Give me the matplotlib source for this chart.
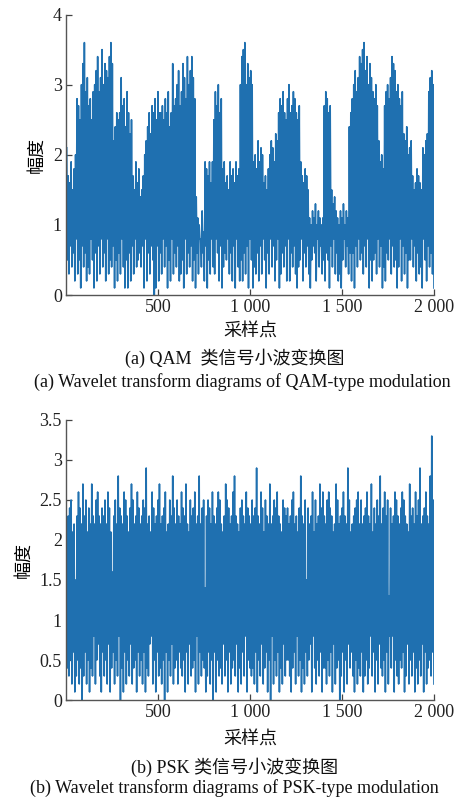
import numpy as np
import matplotlib
matplotlib.use("Agg")
import matplotlib.pyplot as plt

# amplitude levels: one character per 0.1 step (0 -> 0.0, a -> 1.0, k -> 2.0, u -> 3.0, A -> 3.6)
LEVELS = "0123456789abcdefghijklmnopqrstuvwxyzAB"

# QAM: upper peaks, one per 8 samples
qam_hi = "".join([
    "lhgjfik", "srpuxAtvrspt", "uwytvzuxwvyAx", "moq", "pqvrsotqnp",
    "hfjgiefh", "kmoqn", "rqsptq", "qrpsqtoqxrs", "uwrtxvsyuwyvs",
    "eb", "a8c9", "jihjgj", "ptruqs", "ijghfjhigjhi", "uyzAuxvwu",
    "jkimjlk", "ghfi", "kmljnm", "qsrtqpsuqrtsqpr", "jhgihf",
    "bacbdacbab", "rtsqr", "fdec", "bacbdacb", "oqsuwtvyxz",
    "Awyuxvtsur", "mjki", "rtusvyxwtusrt", "nmoklm", "hfgihgf",
    "lkmn", "tvwu",
])
# QAM: lower troughs, one per 8 samples
qam_lo = "".join([
    "5374628351746243851627384",
    "6283547152638415162738456",
    "4718263750172638471528364",
    "7235183647251638462715384",
    "3862714658362718425263718",
    "5143627385163847258136472",
    "8264731458264731576284735",
    "2651748362315847362617485",
    "6374815256384714265837451",
    "4827361558472634185274631",
])

# PSK: upper peaks and lower troughs, one per 8 samples
psk_hi = "".join([
    "mnoplmfnqomrnplomrnmpqnmo",
    "npmqolgnpmsonmqpnlorpmnqo",
    "mnpotmnlqomnprmnoqlmpnsom",
    "pnmqonrmlpnoqmnsmopenpomq",
    "nmoqpmlnrpomnqsnmlopnmqon",
    "mpnotnmqolpnmrmnpoqnmlpon",
    "omnpqmnlosnmpfomnqlpmnroq",
    "nmpqonlmrpmnoqnmtplmnopqm",
    "pmnoqnmrlompnsmoqnpdomnqp",
    "nmoqpnmlrnomqnptmnoqnmsxp",
])
psk_lo = "".join([
    "4352613524036251438257316",
    "3527146253804162537245163",
    "5261437825163425061537245",
    "2643516273451826354136250",
    "6153427351624537142638154",
    "3426153724615082536142735",
    "5314628351426357184253614",
    "4253617245036152746315243",
    "6135248361527435162848153",
    "2546137253614253716245362",
])

x_ticks = [500, 1000, 1500, 2000]
x_tick_labels = ["500", "1 000", "1 500", "2 000"]

LINE_COLOR = "#1f70b0"
SERIF = ["Liberation Serif", "Noto Sans CJK SC"]


def decode(s):
    return np.array([LEVELS.index(c) for c in s]) / 10


def series(hi, lo):
    yh, yl = decode(hi), decode(lo)
    xh = np.linspace(4, 1996, len(yh))
    xl = np.linspace(8, 2000, len(yl))
    x = np.concatenate([xh, xl])
    y = np.concatenate([yh, yl])
    order = np.argsort(x, kind="stable")
    return x[order], y[order]


def style_axes(ax, ylim, yticks, ylabels, pad):
    ax.set_xlim(0, 2000)
    ax.set_ylim(*ylim)
    ax.set_xticks(x_ticks)
    ax.set_xticklabels(x_tick_labels)
    ax.set_yticks(yticks)
    ax.set_yticklabels(ylabels)
    for side in ["top", "right"]:
        ax.spines[side].set_visible(False)
    for side in ["left", "bottom"]:
        ax.spines[side].set_color("#555555")
        ax.spines[side].set_linewidth(1.0)
    ax.tick_params(direction="in", length=4, width=0.9, color="#444444",
                   labelsize=13, labelcolor="#222222", pad=3)
    for lab in ax.get_xticklabels() + ax.get_yticklabels():
        lab.set_family(SERIF)
    ax.set_ylabel("幅度", fontsize=13, family=SERIF, labelpad=pad)


fig = plt.figure(figsize=(4.69, 7.98), dpi=100)

ax1 = fig.add_axes([0.1407, 0.6303, 0.7846, 0.3515])
x, y = series(qam_hi, qam_lo)
ax1.plot(x, y, color=LINE_COLOR, lw=1.15)
style_axes(ax1, (0, 4), [0, 1, 2, 3, 4], ["0", "1", "2", "3", "4"], 5)

ax2 = fig.add_axes([0.1407, 0.1228, 0.7846, 0.3509])
x, y = series(psk_hi, psk_lo)
ax2.plot(x, y, color=LINE_COLOR, lw=1.15)
style_axes(ax2, (0, 3.5), [0, 0.5, 1, 1.5, 2, 2.5, 3, 3.5],
           ["0", "0.5", "1", "1.5", "2", "2.5", "3", "3.5"], 5)

H = 798.0
for yy, txt, xx in [
    (332, "采样点", 0.533),
    (358, "(a) QAM  类信号小波变换图", 0.501),
    (382, "(a) Wavelet transform diagrams of QAM-type modulation", 0.516),
    (740, "采样点", 0.533),
    (767, "(b) PSK 类信号小波变换图", 0.501),
    (788, "(b) Wavelet transform diagrams of PSK-type modulation", 0.499),
]:
    fig.text(xx, 1 - yy / H, txt, ha="center", va="center", fontsize=13,
             family=SERIF, color="#111111")

fig.savefig("out.png", dpi=100)
